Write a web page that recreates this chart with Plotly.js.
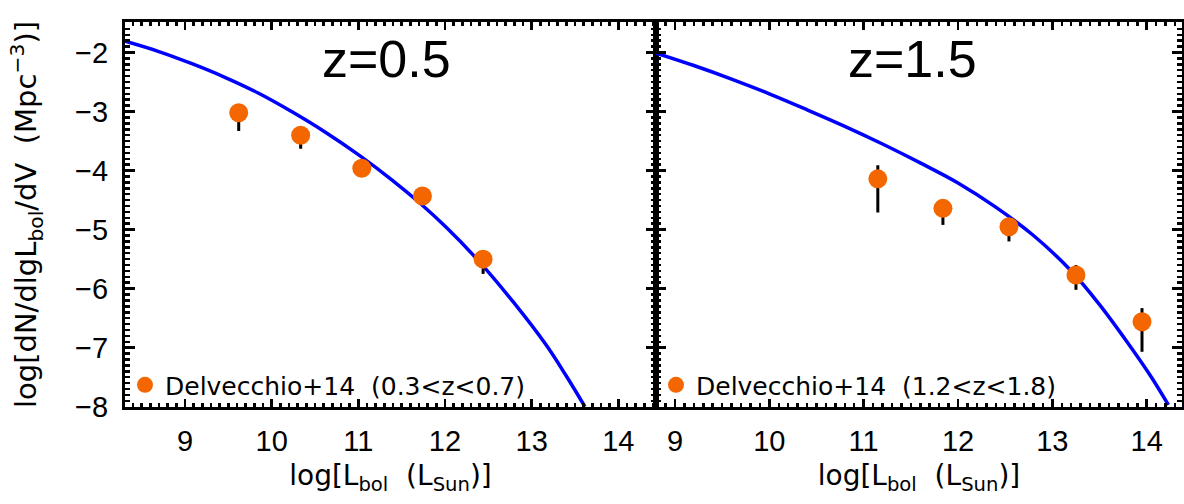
<!DOCTYPE html>
<html>
<head>
<meta charset="utf-8">
<script src="https://cdn.plot.ly/plotly-3.0.1.min.js"></script>
<style>html,body{margin:0;padding:0;background:#fff;}</style>
</head>
<body>
<div id="chart" style="width:1184px;height:504px;"></div>
<script>
// ---- data ----
// z = 0.5 panel: Delvecchio+14 (0.3<z<0.7)
const lumLow = [9.62, 10.335, 11.04, 11.74, 12.44];
const phiLow = [-3.02, -3.40, -3.96, -4.43, -5.50];
const errUpLow = [0.10, 0.10, 0.08, 0.08, 0.10];
const errDnLow = [0.31, 0.23, 0.10, 0.10, 0.25];
// model curve, z = 0.5
const curveLowX = [8.31, 8.69, 9.08, 9.46, 9.85, 10.23, 10.62, 11.00, 11.39, 11.71, 12.02, 12.40, 12.79, 13.17, 13.40, 13.615];
const curveLowY = [-1.81, -1.98, -2.19, -2.42, -2.69, -3.00, -3.35, -3.73, -4.16, -4.55, -4.97, -5.55, -6.23, -6.96, -7.48, -8.00];

// z = 1.5 panel: Delvecchio+14 (1.2<z<1.8)
const lumHigh = [11.15, 11.84, 12.54, 13.25, 13.95];
const phiHigh = [-4.14, -4.64, -4.95, -5.77, -6.56];
const errUpHigh = [0.23, 0.10, 0.10, 0.17, 0.23];
const errDnHigh = [0.57, 0.28, 0.25, 0.25, 0.51];
// model curve, z = 1.5
const curveHighX = [8.80, 9.20, 9.60, 10.00, 10.40, 10.80, 11.20, 11.60, 12.00, 12.40, 12.80, 13.20, 13.50, 13.80, 14.05, 14.23];
const curveHighY = [-2.01, -2.22, -2.45, -2.70, -2.97, -3.25, -3.55, -3.87, -4.21, -4.62, -5.10, -5.70, -6.27, -6.92, -7.50, -7.97];

const panelLabels = ['z=0.5', 'z=1.5'];
const seriesNames = ['Delvecchio+14\u00a0\u00a0(0.3<z<0.7)', 'Delvecchio+14\u00a0\u00a0(1.2<z<1.8)'];

// ---- styling ----
const ORANGE = '#F46600';
const BLUE = '#0000FF';
const tickFont = {family: 'Liberation Sans, Arial, sans-serif', size: 29, color: '#000'};
const titleFont = {family: 'DejaVu Sans, sans-serif', size: 28, color: '#000'};
const yTitleFont = {family: 'DejaVu Sans, sans-serif', size: 29, color: '#000'};
const legendFont = {family: 'DejaVu Sans, sans-serif', size: 25, color: '#000'};
const bigFont = {family: 'Liberation Sans, Arial, sans-serif', size: 52, color: '#000'};

function pointsTrace(x, y, up, dn, name, xa, ya, leg) {
  return {
    type: 'scatter', mode: 'markers', x: x, y: y, name: name,
    xaxis: xa, yaxis: ya, legend: leg, showlegend: true,
    marker: {color: ORANGE, size: 19, line: {width: 0}},
    error_y: {type: 'data', symmetric: false, array: up, arrayminus: dn,
              color: '#000', thickness: 3, width: 0}
  };
}
function curveTrace(x, y, xa, ya) {
  return {
    type: 'scatter', mode: 'lines', x: x, y: y, xaxis: xa, yaxis: ya,
    showlegend: false, hoverinfo: 'skip',
    line: {color: BLUE, width: 3.5, shape: 'spline', smoothing: 1}
  };
}

const data = [
  curveTrace(curveLowX, curveLowY, 'x', 'y'),
  pointsTrace(lumLow, phiLow, errUpLow, errDnLow, seriesNames[0], 'x', 'y', 'legend'),
  curveTrace(curveHighX, curveHighY, 'x2', 'y2'),
  pointsTrace(lumHigh, phiHigh, errUpHigh, errDnHigh, seriesNames[1], 'x2', 'y2', 'legend2')
];

const split = 531 / 1057;
function xAxis(domain, range, anchor) {
  return {
    domain: domain, range: range, anchor: anchor,
    tickmode: 'linear', tick0: 0, dtick: 1,
    ticks: 'inside', ticklen: 8, tickwidth: 2.5, tickcolor: '#000',
    mirror: 'allticks', showline: true, linewidth: 3, linecolor: '#000',
    showgrid: false, zeroline: false, tickfont: tickFont, ticklabelstandoff: 6,
    minor: {ticks: 'inside', ticklen: 4, tickwidth: 2.5, dtick: 0.1, tickcolor: '#000', showgrid: false},
    title: {text: 'log[L<sub>bol</sub>\u00a0\u00a0(L<sub>Sun</sub>)]', font: titleFont, standoff: 10}
  };
}
function yAxis(anchor, labels) {
  return {
    domain: [0, 1], range: [-8.005, -1.483], anchor: anchor,
    tickmode: 'linear', tick0: 0, dtick: 1,
    ticks: 'inside', ticklen: 10, tickwidth: 2.5, tickcolor: '#000',
    mirror: 'allticks', showline: true, linewidth: 3, linecolor: '#000',
    showgrid: false, zeroline: false, tickfont: tickFont, showticklabels: labels,
    ticklabelstandoff: 8,
    minor: {ticks: 'inside', ticklen: 5, tickwidth: 2.5, dtick: 0.1, tickcolor: '#000', showgrid: false}
  };
}

const layout = {
  width: 1184, height: 504,
  margin: {l: 125, r: 2, t: 22, b: 97},
  paper_bgcolor: '#fff', plot_bgcolor: '#fff',
  showlegend: true,
  xaxis: xAxis([0, split], [8.308, 14.435], 'y'),
  xaxis2: xAxis([split, 1], [8.799, 14.374], 'y2'),
  yaxis: Object.assign(yAxis('x', true), {
    title: {text: 'log[dN/dlgL<sub>bol</sub>/dV\u00a0\u00a0(Mpc<sup>\u22123</sup>)]', font: yTitleFont, standoff: 30}
  }),
  yaxis2: yAxis('x2', false),
  legend: {x: 0, y: 0.057, xanchor: 'left', yanchor: 'middle', bgcolor: 'rgba(0,0,0,0)',
           font: legendFont, itemsizing: 'trace'},
  legend2: {x: split, y: 0.057, xanchor: 'left', yanchor: 'middle', bgcolor: 'rgba(0,0,0,0)',
            font: legendFont, itemsizing: 'trace'},
  annotations: [
    {text: panelLabels[0], xref: 'paper', yref: 'paper', x: 0.247, y: 0.905, showarrow: false,
     xanchor: 'center', yanchor: 'middle', font: bigFont},
    {text: panelLabels[1], xref: 'paper', yref: 'paper', x: 0.7446, y: 0.905, showarrow: false,
     xanchor: 'center', yanchor: 'middle', font: bigFont}
  ]
};

Plotly.newPlot('chart', data, layout, {displayModeBar: false, staticPlot: true});
</script>
</body>
</html>
